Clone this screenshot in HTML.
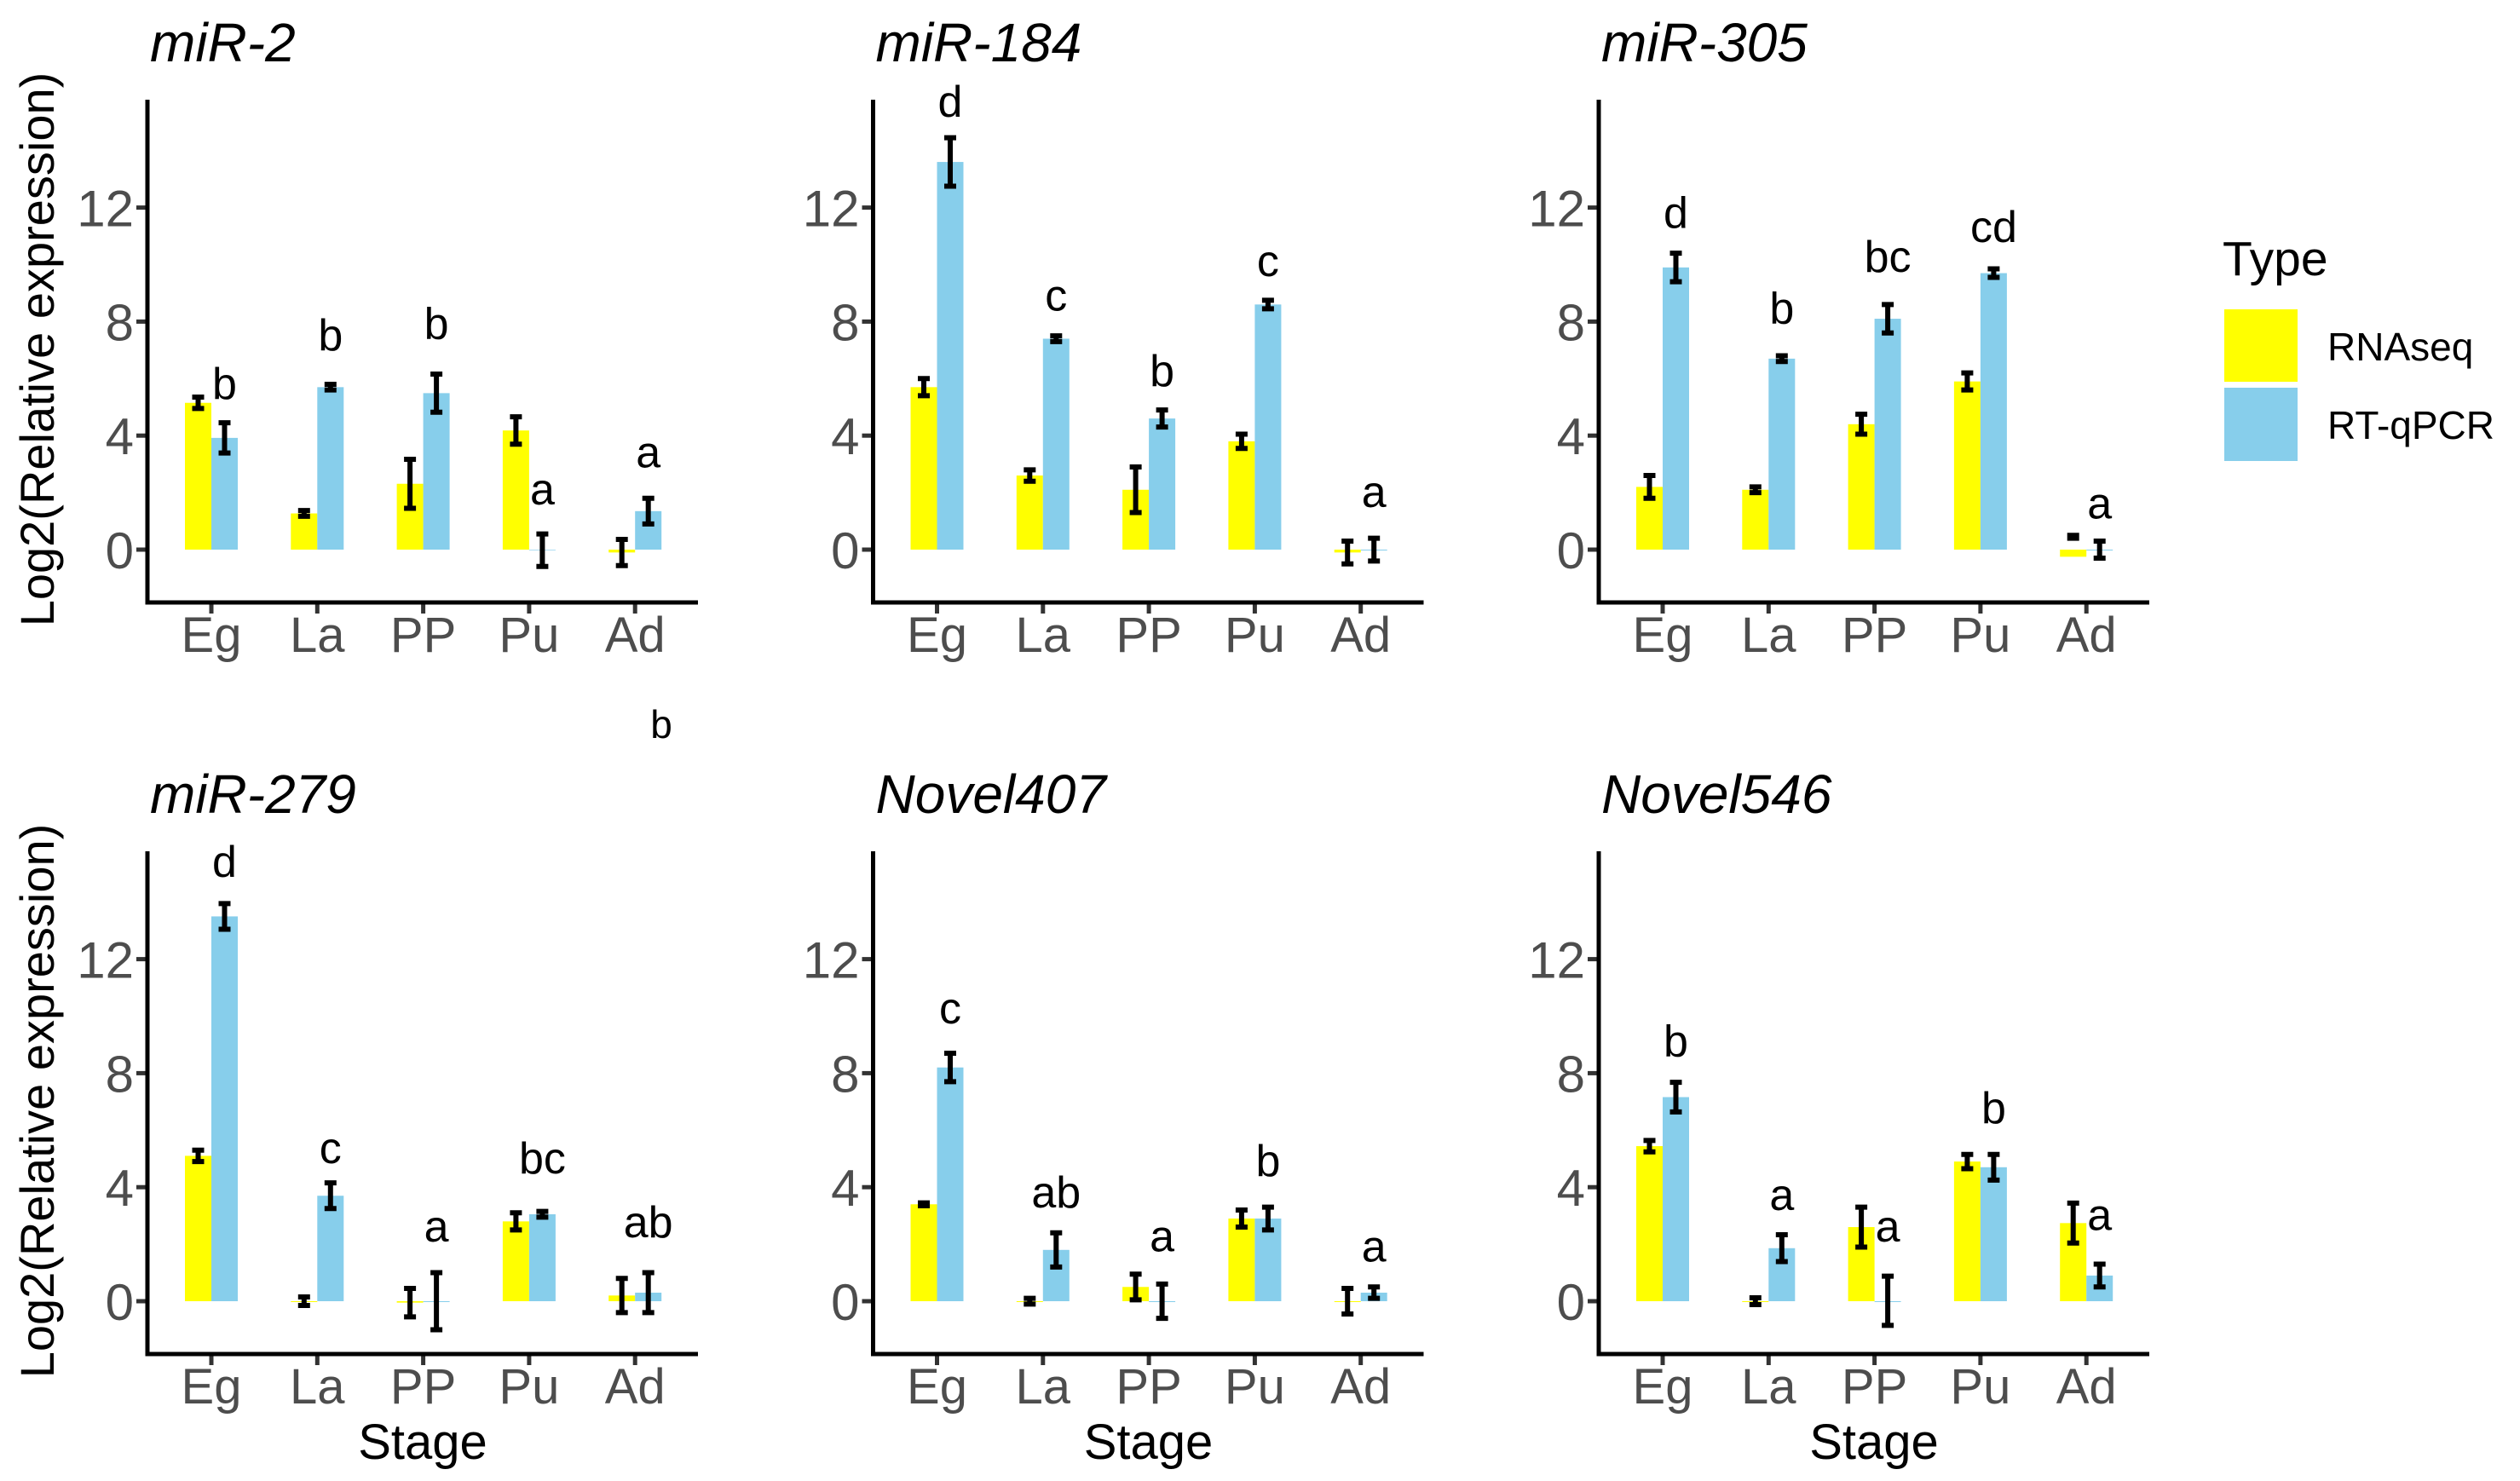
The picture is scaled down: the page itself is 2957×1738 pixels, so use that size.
<!DOCTYPE html>
<html><head><meta charset="utf-8"><style>
html,body{margin:0;padding:0;background:#fff}
svg{display:block}
text{font-family:"Liberation Sans",Arial,sans-serif}
</style></head><body>
<svg id="fig" xmlns="http://www.w3.org/2000/svg" width="2957" height="1738" viewBox="0 0 2957 1738">
<g id="panels"></g>
<g>
<text x="2608" y="323" font-size="57">Type</text>
<rect x="2610" y="363" width="86" height="85" fill="#FFFF00"/>
<rect x="2610" y="455" width="86" height="86" fill="#87CEEB"/>
<text x="2731" y="423" font-size="46">RNAseq</text>
<text x="2731" y="515" font-size="46">RT-qPCR</text>
</g>
<text x="776" y="866" font-size="46" text-anchor="middle">b</text>
</svg>
<script>
const titles = ["miR-2","miR-184","miR-305","miR-279","Novel407","Novel546"];
const stages = ["Eg","La","PP","Pu","Ad"];
const yTicks = [0,4,8,12];
const rnaMean = [[5.15,1.27,2.31,4.18,-0.1],[5.7,2.6,2.1,3.8,-0.1],[2.2,2.1,4.4,5.9,-0.25],[5.1,0,-0.05,2.8,0.2],[3.4,0,0.5,2.9,0],[5.44,0,2.6,4.9,2.74]];
const rnaLo = [[4.95,1.17,1.45,3.7,-0.56],[5.4,2.4,1.3,3.55,-0.5],[1.8,2.0,4.05,5.6,0.4],[4.9,-0.15,-0.55,2.5,-0.4],[3.35,-0.1,0.05,2.6,-0.45],[5.24,-0.12,1.9,4.65,2.04]];
const rnaHi = [[5.35,1.37,3.17,4.66,0.36],[6.0,2.8,2.9,4.05,0.3],[2.6,2.2,4.75,6.2,0.5],[5.3,0.15,0.45,3.1,0.8],[3.45,0.1,0.95,3.2,0.45],[5.64,0.12,3.3,5.15,3.44]];
const pcrMean = [[3.92,5.7,5.49,-0.02,1.35],[13.6,7.4,4.6,8.6,0],[9.9,6.7,8.1,9.7,0],[13.5,3.7,0,3.05,0.3],[8.2,1.8,0,2.9,0.3],[7.16,1.86,0,4.7,0.9]];
const pcrLo = [[3.39,5.6,4.82,-0.59,0.9],[12.75,7.3,4.3,8.45,-0.4],[9.4,6.6,7.6,9.55,-0.3],[13.05,3.25,-1.0,2.95,-0.4],[7.7,1.2,-0.6,2.5,0.1],[6.64,1.39,-0.85,4.25,0.5]];
const pcrHi = [[4.45,5.8,6.16,0.55,1.8],[14.45,7.5,4.9,8.75,0.4],[10.4,6.8,8.6,9.85,0.3],[13.95,4.15,1.0,3.15,1.0],[8.7,2.4,0.6,3.3,0.5],[7.68,2.33,0.88,5.15,1.3]];
const letters = [["b","b","b","a","a"],["d","c","b","c","a"],["d","b","bc","cd","a"],["d","c","a","bc","ab"],["c","ab","a","b","a"],["b","a","a","b","a"]];
const letterY = [[5.8,7.5,7.9,2.1,3.4],[15.7,8.9,6.25,10.1,2.0],[11.8,8.45,10.25,11.3,1.6],[15.4,5.35,2.6,5.0,2.75],[10.25,3.8,2.25,4.9,1.9],[9.1,3.7,2.6,6.75,3.0]];

const NS="http://www.w3.org/2000/svg";
const root=document.getElementById('panels');
function mk(tag,attrs,parent){const e=document.createElementNS(NS,tag);for(const k in attrs)e.setAttribute(k,attrs[k]);parent.appendChild(e);return e;}
const UNIT=33.45, CAT0=75, CATSTEP=124.3, BW=31;
for(let p=0;p<6;p++){
  const col=p%3,row=Math.floor(p/3);
  const ax0=173+col*851.5, y0=645+row*882, yTop=117+row*882, yAx=707+row*882, xEnd=ax0+646;
  const yS=v=>y0-v*UNIT, xS=i=>ax0+CAT0+i*CATSTEP;
  const g=mk('g',{},root);
  
  
  const t=mk('text',{x:ax0+3,y:72+row*882,'font-size':64,'font-style':'italic'},g);t.textContent=titles[p];
  
  
  for(let i=0;i<5;i++){
    const c=xS(i);
    const b1=mk('rect',{x:c-BW,width:BW,y:Math.min(yS(rnaMean[p][i]),y0),height:Math.abs(yS(rnaMean[p][i])-y0)||1,fill:'#FFFF00'},g);
    
    
    const b2=mk('rect',{x:c,width:BW,y:Math.min(yS(pcrMean[p][i]),y0),height:Math.abs(yS(pcrMean[p][i])-y0)||1,fill:'#87CEEB'},g);
    
    
    [[c-BW/2,rnaLo[p][i],rnaHi[p][i],'rnaseq'],[c+BW/2,pcrLo[p][i],pcrHi[p][i],'rtqpcr']].forEach(([x,lo,hi,nm])=>{
      const eb=mk('path',{d:`M${x-7},${yS(hi)}H${x+7}M${x},${yS(hi)}V${yS(lo)}M${x-7},${yS(lo)}H${x+7}`,stroke:'#000','stroke-width':6,fill:'none'},g);
      
      
    });
    const l=mk('text',{x:c+BW/2,y:yS(letterY[p][i]),'font-size':52,'text-anchor':'middle','dominant-baseline':'central'},g);l.textContent=letters[p][i];
    
    
    const tk=mk('line',{x1:c,x2:c,y1:yAx,y2:yAx+13,stroke:'#333','stroke-width':5},g);
    
    
    const xl=mk('text',{x:c,y:yAx+58,'font-size':58,'text-anchor':'middle',fill:'#4D4D4D'},g);xl.textContent=stages[i];
    
    
  }
  yTicks.forEach(v=>{
    const tk=mk('line',{x1:ax0-13,x2:ax0,y1:yS(v),y2:yS(v),stroke:'#333','stroke-width':5},g);
    
    
    const yl=mk('text',{x:ax0-16,y:yS(v)+22,'font-size':60,'text-anchor':'end',fill:'#4D4D4D'},g);yl.textContent=v;
    
    
  });
  const ax=mk('path',{d:`M${ax0},${yTop}V${yAx}H${xEnd}`,stroke:'#000','stroke-width':5,fill:'none'},g);
  
  
  if(col===0){
    const cy=410+row*882;
    const yt=mk('text',{x:0,y:0,'font-size':56,'text-anchor':'middle',transform:`translate(63,${cy}) rotate(-90)`},g);yt.textContent='Log2(Relative expression)';
    
    
  }
  if(row===1){
    const st=mk('text',{x:(ax0+xEnd)/2,y:1712,'font-size':58,'text-anchor':'middle'},g);st.textContent='Stage';
    
    
  }
}
</script>
</body></html>
